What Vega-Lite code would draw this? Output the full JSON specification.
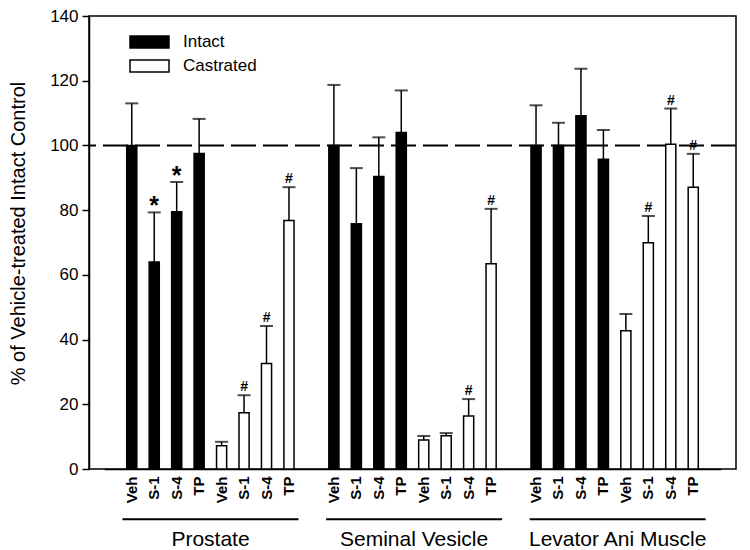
{
  "$schema": "https://vega.github.io/schema/vega-lite/v6.json",
  "width": 647,
  "height": 453,
  "autosize": {"type": "none"},
  "padding": {"left": 89, "top": 16, "right": 14, "bottom": 81},
  "background": "white",
  "config": {
    "font": "Liberation Sans",
    "view": {"stroke": "black", "strokeWidth": 1.5}
  },
  "datasets": {
    "bars": [
      {"tissue": "Prostate", "status": "Intact", "treatment": "Veh", "value": 100, "upper": 113, "sig": ""},
      {"tissue": "Prostate", "status": "Intact", "treatment": "S-1", "value": 64, "upper": 79.3, "sig": "*"},
      {"tissue": "Prostate", "status": "Intact", "treatment": "S-4", "value": 79.5, "upper": 88.7, "sig": "*"},
      {"tissue": "Prostate", "status": "Intact", "treatment": "TP", "value": 97.5, "upper": 108.2, "sig": ""},
      {"tissue": "Prostate", "status": "Castrated", "treatment": "Veh", "value": 7.2, "upper": 8.4, "sig": ""},
      {"tissue": "Prostate", "status": "Castrated", "treatment": "S-1", "value": 17.4, "upper": 22.8, "sig": "#"},
      {"tissue": "Prostate", "status": "Castrated", "treatment": "S-4", "value": 32.6, "upper": 44.2, "sig": "#"},
      {"tissue": "Prostate", "status": "Castrated", "treatment": "TP", "value": 76.8, "upper": 87.1, "sig": "#"},
      {"tissue": "Seminal Vesicle", "status": "Intact", "treatment": "Veh", "value": 100, "upper": 118.7, "sig": ""},
      {"tissue": "Seminal Vesicle", "status": "Intact", "treatment": "S-1", "value": 75.8, "upper": 93, "sig": ""},
      {"tissue": "Seminal Vesicle", "status": "Intact", "treatment": "S-4", "value": 90.4, "upper": 102.5, "sig": ""},
      {"tissue": "Seminal Vesicle", "status": "Intact", "treatment": "TP", "value": 104, "upper": 117, "sig": ""},
      {"tissue": "Seminal Vesicle", "status": "Castrated", "treatment": "Veh", "value": 9, "upper": 10.2, "sig": ""},
      {"tissue": "Seminal Vesicle", "status": "Castrated", "treatment": "S-1", "value": 10.3, "upper": 11.1, "sig": ""},
      {"tissue": "Seminal Vesicle", "status": "Castrated", "treatment": "S-4", "value": 16.4, "upper": 21.6, "sig": "#"},
      {"tissue": "Seminal Vesicle", "status": "Castrated", "treatment": "TP", "value": 63.4, "upper": 80.4, "sig": "#"},
      {"tissue": "Levator Ani Muscle", "status": "Intact", "treatment": "Veh", "value": 100, "upper": 112.4, "sig": ""},
      {"tissue": "Levator Ani Muscle", "status": "Intact", "treatment": "S-1", "value": 100, "upper": 107, "sig": ""},
      {"tissue": "Levator Ani Muscle", "status": "Intact", "treatment": "S-4", "value": 109.2, "upper": 123.7, "sig": ""},
      {"tissue": "Levator Ani Muscle", "status": "Intact", "treatment": "TP", "value": 95.7, "upper": 104.8, "sig": ""},
      {"tissue": "Levator Ani Muscle", "status": "Castrated", "treatment": "Veh", "value": 42.7, "upper": 47.9, "sig": ""},
      {"tissue": "Levator Ani Muscle", "status": "Castrated", "treatment": "S-1", "value": 69.9, "upper": 78.2, "sig": "#"},
      {"tissue": "Levator Ani Muscle", "status": "Castrated", "treatment": "S-4", "value": 100.4, "upper": 111.4, "sig": "#"},
      {"tissue": "Levator Ani Muscle", "status": "Castrated", "treatment": "TP", "value": 87.1, "upper": 97.4, "sig": "#"}
    ],
    "tissues": [
      {"tissue": "Prostate"},
      {"tissue": "Seminal Vesicle"},
      {"tissue": "Levator Ani Muscle"}
    ],
    "reference": [
      {"level": 100}
    ]
  },
  "resolve": {"scale": {"x": "independent"}},
  "layer": [
    {
      "data": {"name": "reference"},
      "mark": {"type": "rule", "strokeDash": [25, 7], "strokeWidth": 2, "color": "black"},
      "encoding": {
        "y": {
          "field": "level",
          "type": "quantitative",
          "scale": {"domain": [0, 140], "nice": false, "zero": true},
          "axis": {
            "title": "% of Vehicle-treated Intact Control",
            "titleFontSize": 20,
            "titleFontWeight": "normal",
            "titleColor": "black",
            "titlePadding": 21,
            "titleY": 217,
            "values": [0, 20, 40, 60, 80, 100, 120, 140],
            "labelFontSize": 17,
            "labelColor": "black",
            "labelPadding": 4,
            "tickSize": 7,
            "tickWidth": 1.5,
            "tickColor": "black",
            "domainColor": "black",
            "domainWidth": 1.5,
            "grid": false
          }
        }
      }
    },
    {
      "data": {"name": "bars"},
      "transform": [
        {"calculate": "datum.tissue + '|' + datum.status + '|' + datum.treatment", "as": "key"}
      ],
      "encoding": {
        "x": {
          "field": "key",
          "type": "nominal",
          "sort": null,
          "scale": {
            "domain": [
              "Prostate|Intact|Veh", "Prostate|Intact|S-1", "Prostate|Intact|S-4", "Prostate|Intact|TP",
              "Prostate|Castrated|Veh", "Prostate|Castrated|S-1", "Prostate|Castrated|S-4", "Prostate|Castrated|TP",
              "gap1",
              "Seminal Vesicle|Intact|Veh", "Seminal Vesicle|Intact|S-1", "Seminal Vesicle|Intact|S-4", "Seminal Vesicle|Intact|TP",
              "Seminal Vesicle|Castrated|Veh", "Seminal Vesicle|Castrated|S-1", "Seminal Vesicle|Castrated|S-4", "Seminal Vesicle|Castrated|TP",
              "gap2",
              "Levator Ani Muscle|Intact|Veh", "Levator Ani Muscle|Intact|S-1", "Levator Ani Muscle|Intact|S-4", "Levator Ani Muscle|Intact|TP",
              "Levator Ani Muscle|Castrated|Veh", "Levator Ani Muscle|Castrated|S-1", "Levator Ani Muscle|Castrated|S-4", "Levator Ani Muscle|Castrated|TP"
            ],
            "range": [15.25, 631.75],
            "paddingInner": 0.55,
            "paddingOuter": 1
          },
          "axis": {
            "title": null,
            "labelExpr": "indexof(datum.value, '|') < 0 ? '' : split(datum.value, '|')[2]",
            "labelAngle": -90,
            "labelFontWeight": "bold",
            "labelFontSize": 15,
            "labelColor": "black",
            "labelPadding": 7,
            "ticks": false,
            "domainColor": "black",
            "domainWidth": 1.5,
            "grid": false
          }
        }
      },
      "layer": [
        {
          "mark": {"type": "rule", "color": "black", "strokeWidth": 1.5},
          "encoding": {
            "y": {"field": "value", "type": "quantitative"},
            "y2": {"field": "upper"}
          }
        },
        {
          "mark": {"type": "tick", "color": "black", "size": 13, "thickness": 2, "orient": "horizontal"},
          "encoding": {
            "y": {"field": "upper", "type": "quantitative"}
          }
        },
        {
          "mark": {"type": "bar", "stroke": "black", "strokeWidth": 1.5},
          "encoding": {
            "y": {"field": "value", "type": "quantitative"},
            "fill": {
              "field": "status",
              "type": "nominal",
              "scale": {"domain": ["Intact", "Castrated"], "range": ["black", "white"]},
              "legend": {
                "title": null,
                "orient": "none",
                "legendX": 40,
                "legendY": 15,
                "symbolType": "M-1,-0.31L1,-0.31L1,0.31L-1,0.31Z",
                "symbolSize": 1521,
                "symbolStrokeColor": "black",
                "symbolStrokeWidth": 1.5,
                "clipHeight": 22,
                "rowPadding": 2,
                "labelOffset": 13,
                "labelFontSize": 17,
                "labelColor": "black",
                "labelFont": "Liberation Sans"
              }
            }
          }
        },
        {
          "transform": [{"filter": "datum.sig == '*'"}],
          "mark": {"type": "text", "fontSize": 25, "fontWeight": "bold", "color": "black", "baseline": "alphabetic", "dy": 2},
          "encoding": {
            "y": {"field": "upper", "type": "quantitative"},
            "text": {"field": "sig"}
          }
        },
        {
          "transform": [{"filter": "datum.sig == '#'"}],
          "mark": {"type": "text", "fontSize": 14, "fontWeight": "bold", "color": "black", "baseline": "alphabetic", "dy": -4},
          "encoding": {
            "y": {"field": "upper", "type": "quantitative"},
            "text": {"field": "sig"}
          }
        }
      ]
    },
    {
      "data": {"name": "tissues"},
      "encoding": {
        "x": {
          "field": "tissue",
          "type": "nominal",
          "sort": null,
          "scale": {"type": "point", "domain": ["Prostate", "Seminal Vesicle", "Levator Ani Muscle"], "range": [121.5, 528.7], "padding": 0},
          "axis": null
        }
      },
      "layer": [
        {
          "mark": {"type": "rule", "color": "black", "strokeWidth": 2, "xOffset": -88, "x2Offset": 88},
          "encoding": {
            "x2": {"field": "tissue"},
            "y": {"datum": -15.5, "type": "quantitative"}
          }
        },
        {
          "mark": {"type": "text", "fontSize": 21, "color": "black", "baseline": "middle", "align": "center"},
          "encoding": {
            "y": {"datum": -22, "type": "quantitative"},
            "text": {"field": "tissue"}
          }
        }
      ]
    }
  ]
}
